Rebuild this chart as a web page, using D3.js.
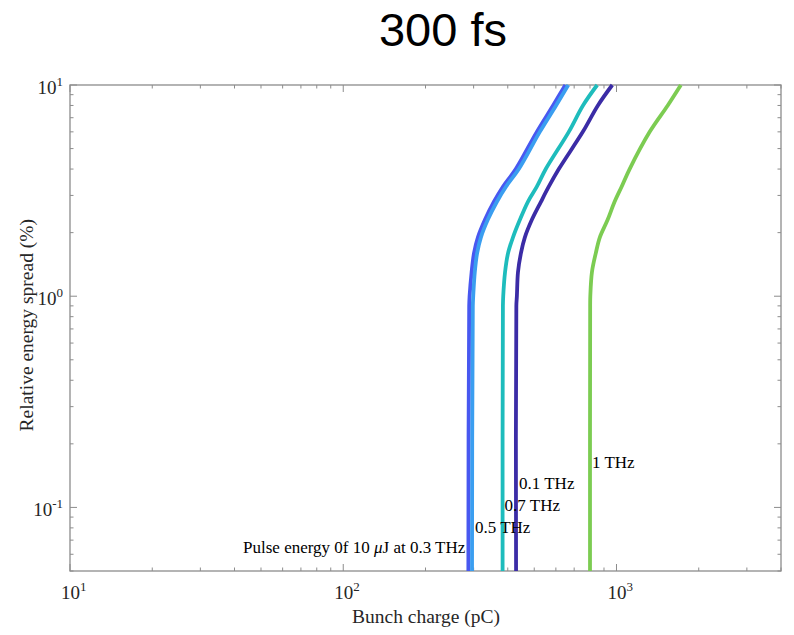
<!DOCTYPE html>
<head>
    <meta charset="utf-8">
    <title>300 fs</title>
    <style>
        body { margin: 0; background: #fff; }
        text { font-family: "Liberation Serif", "Times New Roman", serif; fill: #262626; }
        .title { font-family: "Liberation Sans", Arial, sans-serif; fill: #000; }
        .frame line { stroke: #8c8c8c; }
        .curve { fill: none; stroke-width: 3.8; stroke-linejoin: round; }
    </style>
</head>
<body>

<svg width="794" height="635"></svg>

<script src="https://d3js.org/d3.v7.min.js"></script>

<script>

// energy spread (%) at which charge was read, same for every curve
var spread = [10, 8, 6, 4, 3.3, 2.8, 2.3, 1.9, 1.6, 1.3, 1, 0.9, 0.05];

// bunch charge (pC) for each frequency
var charge01 = [965, 855, 753, 615, 565, 529, 490, 462, 447, 436, 432, 430, 429];
var charge03 = [650, 586, 511, 428, 384, 356, 330, 311, 301, 295, 290, 289, 287];
var charge05 = [666, 601, 524, 439, 394, 365, 338, 319, 309, 303, 299, 298, 296];
var charge07 = [850, 754, 669, 551, 511, 474, 443, 418, 401, 391, 385, 384, 383];
var charge1  = [1720, 1540, 1323, 1117, 1044, 984, 928, 869, 840, 813, 802, 801, 800];

var series = [
    { name: '0.1 THz', color: '#3b2ca6', values: charge01 },
    { name: '0.7 THz', color: '#1ebcbc', values: charge07 },
    { name: '1 THz',   color: '#7ccc52', values: charge1 },
    { name: '0.3 THz', color: '#4858f0', values: charge03 },
    { name: '0.5 THz', color: '#3a9ef0', values: charge05 }
];

var xTicks = [10, 100, 1000];
var yTicks = [0.1, 1, 10];

var svg = d3.select('svg'),
    margin = { top: 85, right: 13, bottom: 64, left: 70 },
    width = +svg.attr('width') - margin.left - margin.right,
    height = +svg.attr('height') - margin.top - margin.bottom;

var g = svg.append('g')
    .attr('transform', `translate(${margin.left},${margin.top})`);

var x = d3.scaleLog().domain([10, 4000]).range([0, width]);
var y = d3.scaleLog().domain([0.05, 10]).range([height, 0]);

// minor ticks on every 1..9 multiple inside the domain
var xMinor = x.ticks().filter(d => xTicks.indexOf(d) < 0);
var yMinor = y.ticks().filter(d => yTicks.indexOf(d) < 0);

var frame = g.append('g').attr('class', 'frame');

function ticksOn(sel, scale, minor, major, orient) {
    sel.selectAll(null)
        .data(minor.map(v => [v, 3.5]).concat(major.map(v => [v, 7])))
        .enter().append('line')
        .attr('stroke-width', 1)
        .each(function(d) {
            var p = scale(d[0]), l = d[1], s = d3.select(this);
            if (orient === 'bottom') s.attr('x1', p).attr('x2', p).attr('y1', height).attr('y2', height - l);
            if (orient === 'top') s.attr('x1', p).attr('x2', p).attr('y1', 0).attr('y2', l);
            if (orient === 'left') s.attr('y1', p).attr('y2', p).attr('x1', 0).attr('x2', l);
            if (orient === 'right') s.attr('y1', p).attr('y2', p).attr('x1', width).attr('x2', width - l);
        });
}

// box
frame.append('rect')
    .attr('width', width).attr('height', height)
    .attr('fill', 'none').attr('stroke', '#8c8c8c').attr('stroke-width', 1.3);

ticksOn(frame, x, xMinor, xTicks, 'bottom');
ticksOn(frame, x, xMinor, xTicks, 'top');
ticksOn(frame, y, yMinor, yTicks, 'left');
ticksOn(frame, y, yMinor, yTicks, 'right');

// tick labels as 10^n
var xLab = g.selectAll('.xlab')
    .data(xTicks)
    .enter().append('text')
    .attr('class', 'xlab')
    .attr('x', d => x(d) - 9)
    .attr('y', height + 28)
    .style('font-size', '19px');
xLab.append('tspan').text('10');
xLab.append('tspan').attr('dy', -8).style('font-size', '13px').text(d => Math.round(Math.log10(d)));

var yLab = g.selectAll('.ylab')
    .data(yTicks)
    .enter().append('text')
    .attr('class', 'ylab')
    .attr('x', -7)
    .attr('y', d => y(d) + 9)
    .attr('text-anchor', 'end')
    .style('font-size', '19px');
yLab.append('tspan').text('10');
yLab.append('tspan').attr('dy', -8).style('font-size', '13px').text(d => Math.round(Math.log10(d)));

// curves
var line = d3.line()
    .x(d => x(d[0]))
    .y(d => y(d[1]))
    .curve(d3.curveCatmullRom.alpha(0.5));

g.selectAll('.curve')
    .data(series)
    .enter().append('path')
    .attr('class', 'curve')
    .attr('stroke', d => d.color)
    .attr('d', d => line(d.values.map((v, i) => [v, spread[i]])));

// in-plot annotations
var notes = [
    { text: ['Pulse energy 0f 10 ', 'μ', 'J at 0.3 THz'], c: 287, s: 0.0608, anchor: 'end', dx: -3 },
    { text: ['0.5 THz'], c: 296, s: 0.0759, anchor: 'start', dx: 3 },
    { text: ['0.7 THz'], c: 383, s: 0.0962, anchor: 'start', dx: 2 },
    { text: ['0.1 THz'], c: 429, s: 0.122, anchor: 'start', dx: 3 },
    { text: ['1 THz'], c: 800, s: 0.153, anchor: 'start', dx: 2 }
];

var note = g.selectAll('.note')
    .data(notes)
    .enter().append('text')
    .attr('class', 'note')
    .attr('x', d => x(d.c) + d.dx)
    .attr('y', d => y(d.s))
    .attr('text-anchor', d => d.anchor)
    .style('font-size', '17px')
    .style('fill', '#000');
note.each(function(d) {
    var t = d3.select(this);
    d.text.forEach(s => {
        t.append('tspan').style('font-style', s === 'μ' ? 'italic' : 'normal').text(s);
    });
});

// axis titles
svg.append('text')
    .attr('x', 426)
    .attr('y', 623)
    .attr('text-anchor', 'middle')
    .style('font-size', '19.5px')
    .text('Bunch charge (pC)');

svg.append('text')
    .attr('transform', `translate(33,${margin.top + y(1) + 29}) rotate(-90)`)
    .attr('text-anchor', 'middle')
    .style('font-size', '19.5px')
    .text('Relative energy spread (%)');

svg.append('text')
    .attr('class', 'title')
    .attr('x', 443)
    .attr('y', 46)
    .attr('text-anchor', 'middle')
    .style('font-size', '47px')
    .text('300 fs');

</script>

</body>
